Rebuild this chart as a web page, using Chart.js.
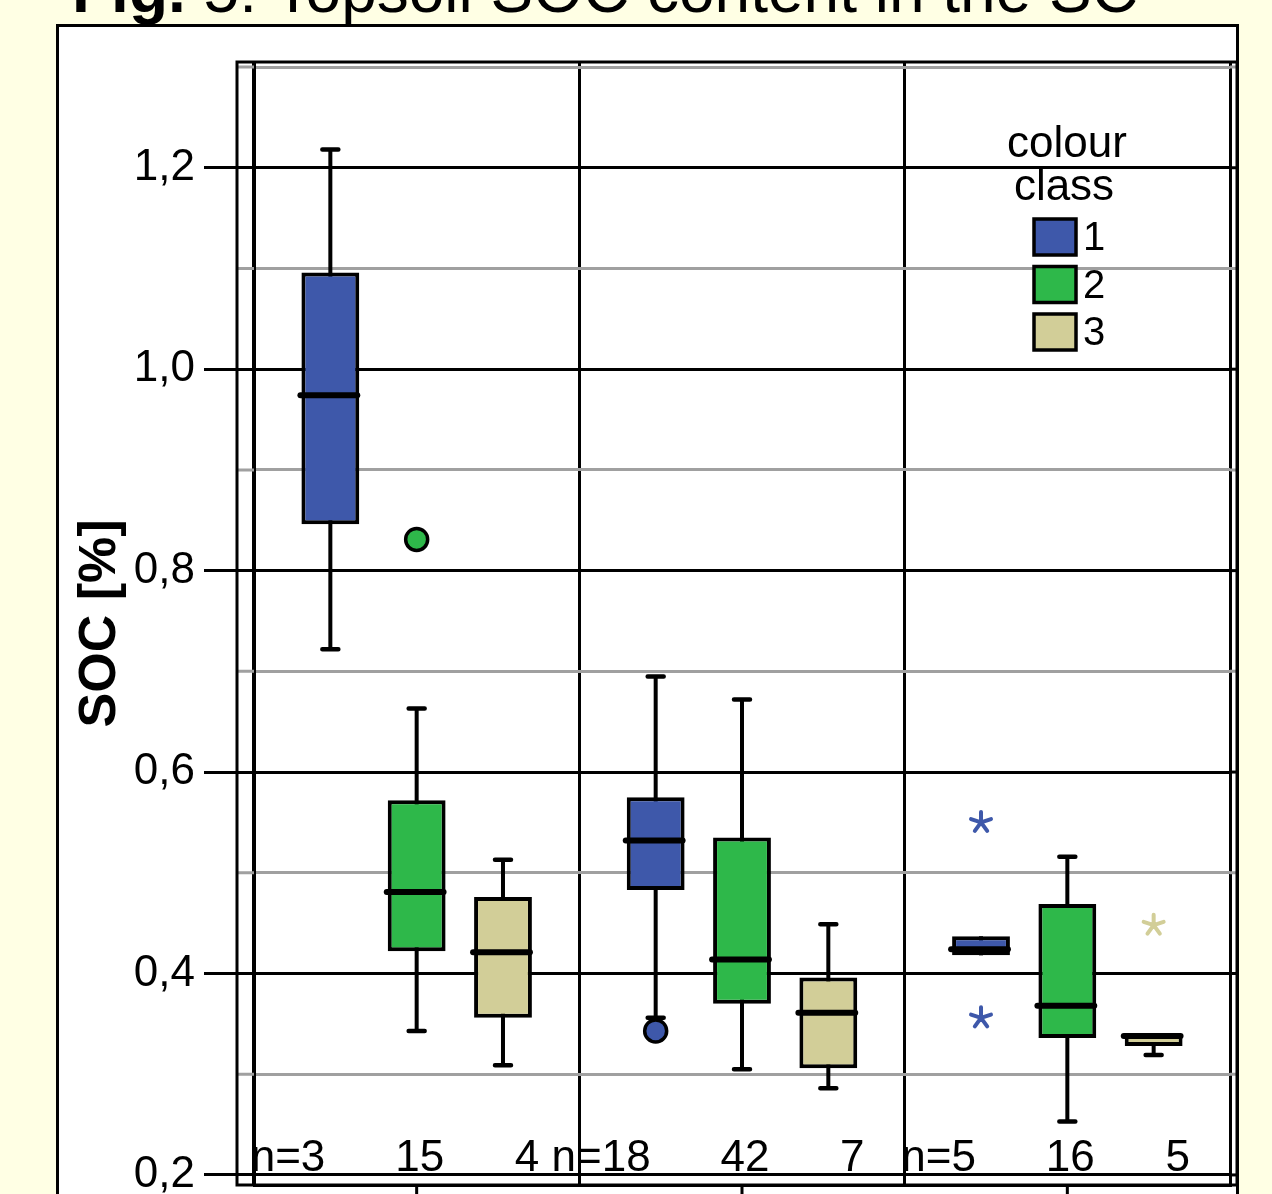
<!DOCTYPE html>
<html lang="en">
<head>
<meta charset="utf-8">
<title>Topsoil SOC content</title>
<script src="https://cdn.jsdelivr.net/npm/chart.js"></script>
<style>
    body { margin: 0; background: #ffffe4; font-family: "Liberation Sans", Arial, sans-serif; }
    .page { position: relative; width: 1272px; height: 1194px; overflow: hidden; }
    .fig-title { position: absolute; left: 72px; top: -42px; font-size: 64px; line-height: 64px; white-space: nowrap; color: #000; }
    .panel { position: absolute; left: 56px; top: 24px; width: 1183px; height: 1300px; border: 3px solid #000; background: #fff; box-sizing: border-box; }
    .chart-container { position: absolute; left: 0; top: 0; width: 1272px; height: 1194px; }
</style>
</head>
<body>
<div class="page">
    <div class="fig-title"><b>Fig.</b> 5: Topsoil SOC content in the SC</div>
    <div class="panel"></div>
    <div class="chart-container">
        <canvas id="chart"></canvas>
    </div>
</div>
<script>
    // groups on the x axis (no labels are printed in the figure)
    var groups = ["1", "2", "3"];
    var colourClasses = ["1", "2", "3"];
    var classColours = ["#3e58aa", "#2eb84a", "#d2ce98"];

    // y axis ticks (every 0.1, labelled every 0.2)
    var yTicks = [0.2, 0.3, 0.4, 0.5, 0.6, 0.7, 0.8, 0.9, 1.0, 1.1, 1.2, 1.3];

    // colour class 1 (blue)
    var class1Box = [[0.846, 1.096], [0.483, 0.575], [0.418, 0.437]];
    var class1Median = [0.974, 0.532, 0.424];
    var class1Whisker = [[0.722, 1.218], [0.356, 0.695], [0.418, 0.437]];
    var class1Outliers = [[], [0.343], []];
    var class1Extremes = [[], [], [0.550, 0.356]];
    var class1N = [3, 18, 5];

    // colour class 2 (green)
    var class2Box = [[0.422, 0.572], [0.370, 0.535], [0.336, 0.469]];
    var class2Median = [0.481, 0.414, 0.368];
    var class2Whisker = [[0.343, 0.663], [0.305, 0.672], [0.253, 0.516]];
    var class2Outliers = [[0.831], [], []];
    var class2Extremes = [[], [], []];
    var class2N = [15, 42, 16];

    // colour class 3 (beige)
    var class3Box = [[0.356, 0.476], [0.306, 0.396], [0.328, 0.340]];
    var class3Median = [0.421, 0.361, 0.338];
    var class3Whisker = [[0.309, 0.513], [0.286, 0.449], [0.319, 0.340]];
    var class3Outliers = [[], [], []];
    var class3Extremes = [[], [], [0.448]];
    var class3N = [4, 7, 5];

    var boxes = [class1Box, class2Box, class3Box];
    var medians = [class1Median, class2Median, class3Median];
    var whiskers = [class1Whisker, class2Whisker, class3Whisker];
    var outliers = [class1Outliers, class2Outliers, class3Outliers];
    var extremes = [class1Extremes, class2Extremes, class3Extremes];
    var counts = [class1N, class2N, class3N];

    var FONT = '"Liberation Sans", Arial, sans-serif';
    Chart.defaults.font.family = FONT;
    Chart.defaults.color = "#000";

    function isMajor(v) {
        return Math.round(v * 10) % 2 === 0;
    }

    function drawAsterisk(ctx, cx, cy, r, colour) {
        ctx.strokeStyle = colour;
        ctx.lineWidth = 4;
        ctx.lineCap = "round";
        ctx.beginPath();
        for (var a = 0; a < 5; a++) {
            var ang = -Math.PI / 2 + a * 2 * Math.PI / 5;
            ctx.moveTo(cx, cy);
            ctx.lineTo(cx + r * Math.cos(ang), cy + r * Math.sin(ang));
        }
        ctx.stroke();
    }

    // whiskers, medians, outliers, frame and legend
    var boxPlotPlugin = {
        id: "boxPlot",
        beforeDatasetsDraw: function(chart) {
            var ctx = chart.ctx, a = chart.chartArea, y = chart.scales.y;
            var frameL = a.left - 17, frameR = a.right + 7;
            ctx.save();
            yTicks.forEach(function(v) {
                var py = y.getPixelForValue(v);
                ctx.strokeStyle = isMajor(v) ? "#000" : "#a0a0a0";
                ctx.lineWidth = 3;
                ctx.beginPath();
                if (!isMajor(v)) { ctx.moveTo(frameL, py); ctx.lineTo(a.left, py); }
                ctx.moveTo(a.right, py);
                ctx.lineTo(frameR, py);
                ctx.stroke();
            });
            ctx.strokeStyle = "#000";
            colourClasses.forEach(function(c, k) {
                chart.getDatasetMeta(k).data.forEach(function(bar, i) {
                    var lo = whiskers[k][i][0], hi = whiskers[k][i][1];
                    var q1 = boxes[k][i][0], q3 = boxes[k][i][1];
                    var yl = y.getPixelForValue(lo), yh = y.getPixelForValue(hi);
                    ctx.lineWidth = 4;
                    ctx.beginPath();
                    ctx.moveTo(bar.x, yl);
                    ctx.lineTo(bar.x, yh);
                    ctx.stroke();
                    ctx.lineWidth = 4.5;
                    ctx.lineCap = "round";
                    ctx.beginPath();
                    if (lo < q1) { ctx.moveTo(bar.x - 8, yl); ctx.lineTo(bar.x + 8, yl); }
                    if (hi > q3) { ctx.moveTo(bar.x - 8, yh); ctx.lineTo(bar.x + 8, yh); }
                    ctx.stroke();
                    ctx.lineCap = "butt";
                });
            });
            ctx.restore();
        },
        afterDatasetsDraw: function(chart) {
            var ctx = chart.ctx, a = chart.chartArea, x = chart.scales.x, y = chart.scales.y;
            ctx.save();
            colourClasses.forEach(function(c, k) {
                chart.getDatasetMeta(k).data.forEach(function(bar, i) {
                    var half = bar.width / 2;
                    // median
                    var pm = y.getPixelForValue(medians[k][i]);
                    ctx.strokeStyle = "#000";
                    ctx.lineWidth = 6;
                    ctx.lineCap = "round";
                    ctx.beginPath();
                    ctx.moveTo(bar.x - half - 1, pm);
                    ctx.lineTo(bar.x + half - 2, pm);
                    ctx.stroke();
                    // outliers (circles)
                    outliers[k][i].forEach(function(v) {
                        ctx.beginPath();
                        ctx.arc(bar.x, y.getPixelForValue(v), 11, 0, Math.PI * 2);
                        ctx.fillStyle = classColours[k];
                        ctx.fill();
                        ctx.lineWidth = 3.5;
                        ctx.stroke();
                    });
                    // extremes (asterisks)
                    extremes[k][i].forEach(function(v) {
                        drawAsterisk(ctx, bar.x, y.getPixelForValue(v), 10.5, classColours[k]);
                    });
                    // n labels
                    ctx.fillStyle = "#000";
                    ctx.font = "44px " + FONT;
                    ctx.textBaseline = "alphabetic";
                    var ty = y.getPixelForValue(0.2) - 4;
                    if (k === 0) {
                        ctx.textAlign = "right";
                        ctx.fillText("n=" + counts[k][i], bar.x - 5, ty);
                    } else if (k === 1) {
                        ctx.textAlign = "center";
                        ctx.fillText(String(counts[k][i]), bar.x + 3, ty);
                    } else {
                        ctx.textAlign = "center";
                        ctx.fillText(String(counts[k][i]), bar.x + 24, ty);
                    }
                });
            });
            // frame around the plot
            var frameL = a.left - 17, frameR = a.right + 7;
            ctx.strokeStyle = "#000";
            ctx.lineWidth = 3;
            ctx.lineCap = "butt";
            ctx.strokeRect(frameL, a.top, frameR - frameL, a.bottom - a.top);
            // centre ticks under the groups
            ctx.beginPath();
            groups.forEach(function(g, i) {
                var px = x.getPixelForValue(i);
                ctx.moveTo(px, a.bottom);
                ctx.lineTo(px, a.bottom + 14);
            });
            ctx.stroke();
            ctx.restore();
        },
        afterDraw: function(chart) {
            var ctx = chart.ctx;
            ctx.save();
            ctx.fillStyle = "#000";
            ctx.font = "44px " + FONT;
            ctx.textAlign = "center";
            ctx.textBaseline = "alphabetic";
            ctx.fillText("colour", 1067, 157);
            ctx.fillText("class", 1064, 200);
            ctx.textAlign = "left";
            ctx.textBaseline = "middle";
            colourClasses.forEach(function(c, k) {
                var top = 219 + k * 47.5;
                ctx.fillStyle = classColours[k];
                ctx.fillRect(1034, top, 42, 36);
                ctx.strokeStyle = "#000";
                ctx.lineWidth = 3.5;
                ctx.strokeRect(1034, top, 42, 36);
                ctx.fillStyle = "#000";
                ctx.font = "40px " + FONT;
                ctx.fillText(c, 1083, top + 20);
            });
            ctx.restore();
        }
    };

    var chart = new Chart(document.getElementById("chart"), {
        type: "bar",
        data: {
            labels: groups,
            datasets: colourClasses.map(function(c, k) {
                return {
                    label: c,
                    data: boxes[k],
                    backgroundColor: classColours[k],
                    borderColor: "#000",
                    borderWidth: 4,
                    borderSkipped: false,
                    categoryPercentage: 0.796,
                    barPercentage: 0.67
                };
            })
        },
        options: {
            responsive: true,
            maintainAspectRatio: false,
            animation: false,
            layout: { padding: { left: 0, top: 62, right: 42, bottom: 0 } },
            plugins: {
                legend: { display: false },
                tooltip: { enabled: false }
            },
            scales: {
                x: {
                    type: "category",
                    offset: true,
                    grid: { offset: true, color: "#000", lineWidth: 3, drawTicks: false },
                    border: { display: true, color: "#000", width: 3 },
                    ticks: { display: false },
                    afterFit: function(s) { s.height = 9; s.paddingLeft = 0; s.paddingRight = 0; }
                },
                y: {
                    min: 0.19,
                    max: 1.305,
                    afterBuildTicks: function(s) {
                        s.ticks = yTicks.map(function(v) { return { value: v }; });
                    },
                    afterFit: function(s) { s.width = 254; s.paddingTop = 0; s.paddingBottom = 0; },
                    border: { display: true, color: "#000", width: 3 },
                    grid: {
                        lineWidth: 3,
                        tickLength: 50,
                        color: function(ctx) { return isMajor(ctx.tick.value) ? "#000" : "#a0a0a0"; },
                        tickColor: function(ctx) { return isMajor(ctx.tick.value) ? "#000" : "rgba(0,0,0,0)"; }
                    },
                    ticks: {
                        padding: 9,
                        font: { size: 44 },
                        color: "#000",
                        callback: function(v) { return isMajor(v) ? v.toFixed(1).replace(".", ",") : ""; }
                    },
                    title: {
                        display: true,
                        text: "SOC [%]",
                        color: "#000",
                        font: { size: 52, weight: "bold" },
                        padding: { top: 69, bottom: 0 }
                    }
                }
            }
        },
        plugins: [boxPlotPlugin]
    });
</script>
</body>
</html>
